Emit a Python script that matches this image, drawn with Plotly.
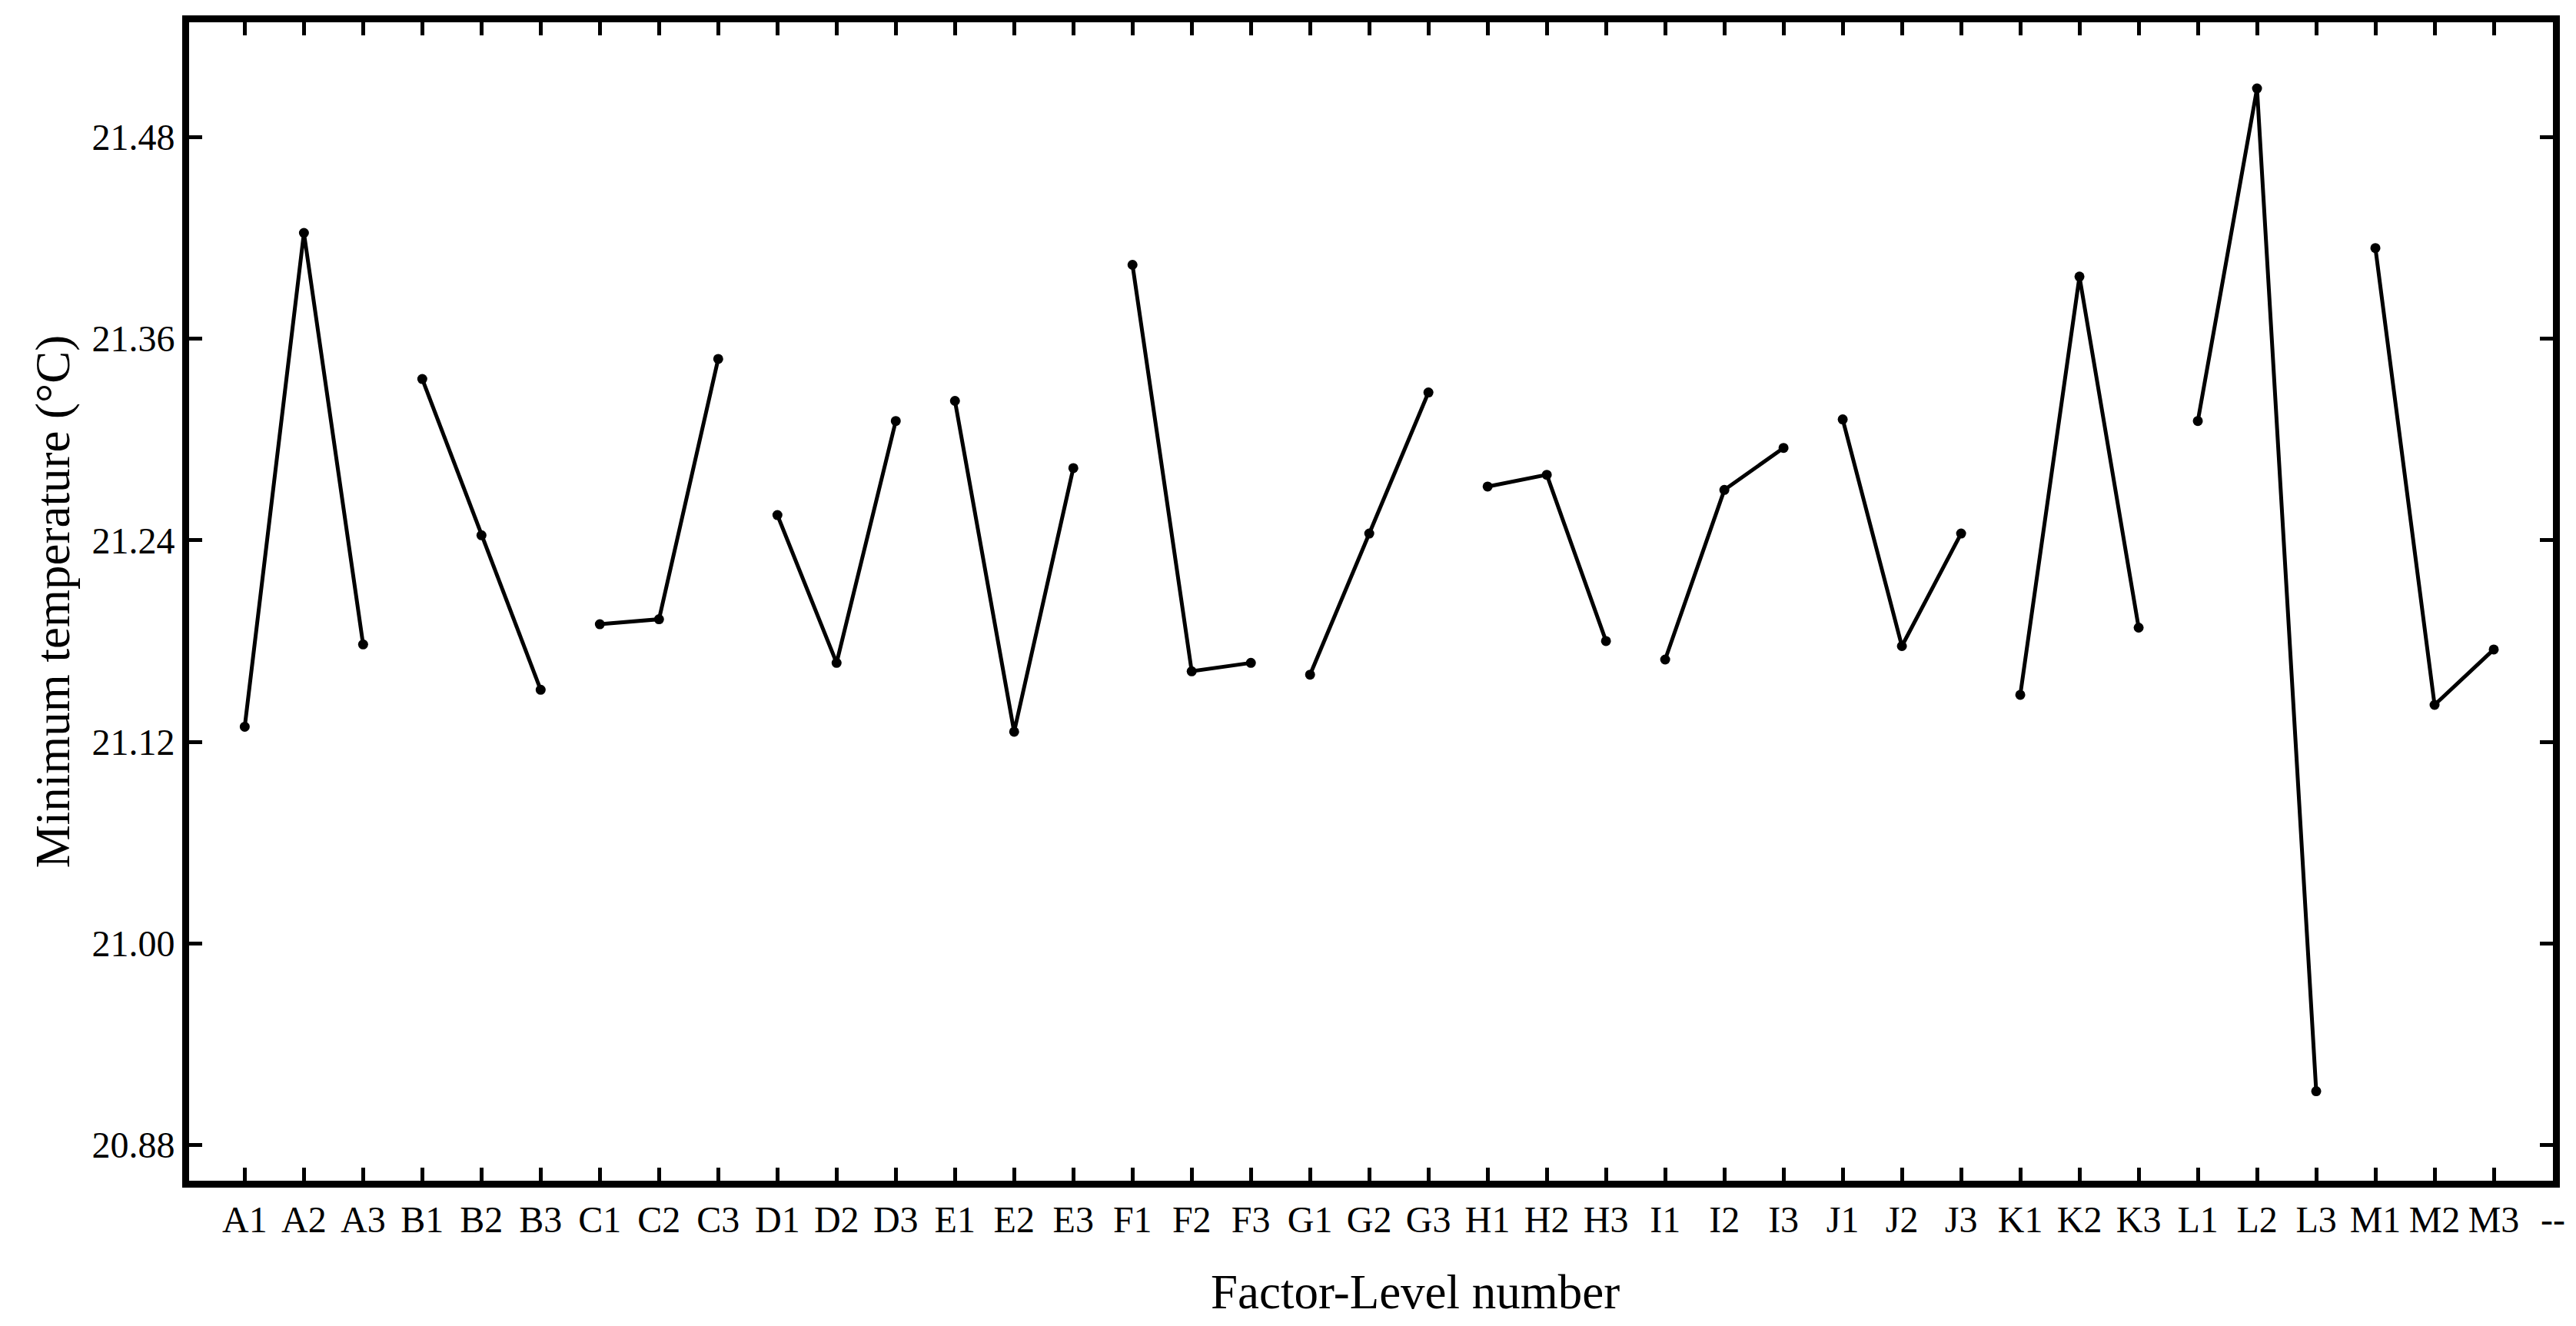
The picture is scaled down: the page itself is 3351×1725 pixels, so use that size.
import plotly.graph_objects as go

# Factor levels and their mean minimum temperature (degC)
factors = ["A", "B", "C", "D", "E", "F", "G", "H", "I", "J", "K", "L", "M"]
levels = ["1", "2", "3"]
min_temp = [
    21.129, 21.423, 21.178,   # A
    21.336, 21.243, 21.151,   # B
    21.190, 21.193, 21.348,   # C
    21.255, 21.167, 21.311,   # D
    21.323, 21.126, 21.283,   # E
    21.404, 21.162, 21.167,   # F
    21.160, 21.244, 21.328,   # G
    21.272, 21.279, 21.180,   # H
    21.169, 21.270, 21.295,   # I
    21.312, 21.177, 21.244,   # J
    21.148, 21.397, 21.188,   # K
    21.311, 21.509, 20.912,   # L
    21.414, 21.142, 21.175,   # M
]
y_ticks = [20.88, 21.00, 21.12, 21.24, 21.36, 21.48]

labels = [f + l for f in factors for l in levels]
categories = labels + ["--"]

font = "Liberation Serif, Times New Roman, serif"

fig = go.Figure()

# one polyline per factor, levels 1-3
for i, f in enumerate(factors):
    fig.add_trace(go.Scatter(
        x=labels[i * 3:i * 3 + 3],
        y=min_temp[i * 3:i * 3 + 3],
        mode="lines+markers",
        line=dict(color="black", width=5),
        marker=dict(color="black", size=13),
        showlegend=False,
        name=f,
    ))

# page body has an 8px margin, so the figure is 16px smaller than the window
fig.update_layout(
    template="none",
    width=3335,
    height=1709,
    paper_bgcolor="white",
    plot_bgcolor="white",
    margin=dict(l=238, r=22, t=21, b=181),
    font=dict(family=font, color="black", size=48),
    annotations=[dict(
        text="Factor-Level number",
        x=0.5186, xref="paper",
        y=0, yref="paper",
        yanchor="top", yshift=-108,
        showarrow=False,
        font=dict(family=font, size=63, color="black"),
    )],
)

fig.update_xaxes(
    type="category",
    categoryorder="array",
    categoryarray=categories,
    range=[-0.94, 39.0],
    automargin=False,
    showline=True, linecolor="black", linewidth=9,
    mirror="ticks",
    ticks="inside", ticklen=17, tickwidth=5, tickcolor="black",
    tickfont=dict(family=font, size=48),
    showgrid=False, zeroline=False,
)

fig.update_yaxes(
    range=[20.8587, 21.5484],
    tickvals=y_ticks,
    tickformat=".2f",
    automargin=False,
    showline=True, linecolor="black", linewidth=9,
    mirror="ticks",
    ticks="inside", ticklen=17, tickwidth=5, tickcolor="black",
    tickfont=dict(family=font, size=48),
    showgrid=False, zeroline=False,
    title=dict(text="Minimum temperature (°C)", standoff=12,
               font=dict(family=font, size=63)),
)

fig.write_html("out.html")
